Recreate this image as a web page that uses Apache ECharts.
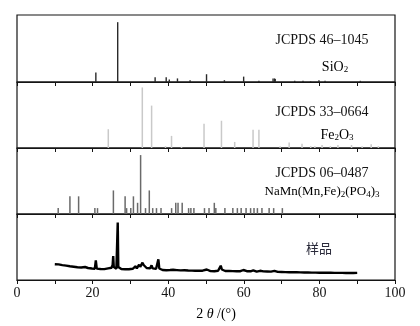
<!DOCTYPE html>
<html>
<head>
<meta charset="utf-8">
<script src="https://cdn.jsdelivr.net/npm/echarts@6/dist/echarts.min.js"></script>
<style>
  html, body { margin: 0; padding: 0; background: #fff; }
  #chart { width: 420px; height: 326px; }
</style>
</head>
<body>
<div id="chart"></div>
<script>
// stick patterns: [2theta, relative intensity]
var sio2Peaks = [[20.86,16],[26.64,100],[36.54,8],[39.47,8],[40.29,4],[42.45,6],[45.79,3],[50.14,13],[54.87,3],[59.96,9],[63.99,2],[67.74,6],[68.14,6],[68.31,5],[73.47,2],[75.66,2],[77.67,1],[79.88,3],[81.49,2],[90.83,2]];
var fe2o3Peaks = [[24.15,31],[33.15,100],[35.61,70],[39.28,3],[40.88,20],[43.52,2],[49.48,40],[54.09,45],[57.59,10],[62.45,30],[64.0,30],[69.6,3],[72.0,9],[75.4,7],[77.7,3],[78.8,3],[80.7,5],[82.9,3],[84.9,5],[88.5,5],[91.3,3],[93.7,6],[95.6,3]];
var namnPeaks = [[10.9,10],[14.0,30],[16.3,30],[20.6,10],[21.3,10],[25.5,40],[28.6,30],[29.0,10],[30.1,10],[30.8,30],[31.9,19],[32.7,100],[34.0,10],[35.0,40],[35.9,10],[36.9,10],[38.1,10],[40.9,10],[42.0,19],[42.6,19],[43.7,19],[45.4,10],[46.0,10],[46.8,10],[49.6,10],[50.8,10],[52.2,19],[52.6,10],[55.0,10],[57.1,10],[58.3,10],[59.3,10],[60.6,10],[61.8,10],[62.7,10],[63.6,10],[64.8,10],[66.7,10],[67.9,10],[70.2,10]];
// measured sample pattern
var samplePattern = [[10,15.8],[10.5,15.2],[11,15.6],[11.5,14.8],[12,14.9],[12.5,14.2],[13,14.4],[13.5,13.6],[14,13.7],[14.5,13.1],[15,13.3],[15.5,12.7],[16,12.8],[16.5,12.3],[17,12.5],[17.5,12.2],[18,13],[18.4,13.2],[18.8,12],[19.3,11.8],[19.8,11.5],[20.3,11.7],[20.6,11.3],[20.85,19.7],[21.1,11.4],[21.6,11.2],[22.1,11],[22.6,11.3],[23.1,10.9],[23.6,11.2],[24.1,11.6],[24.6,11.2],[25.0,12.2],[25.3,15],[25.45,24],[25.6,13],[25.9,11.5],[26.3,11.4],[26.5,12],[26.65,57.5],[26.8,13],[27.1,11.6],[27.6,11],[28.1,10.6],[28.6,10.8],[29.1,10.4],[29.6,10.7],[30.1,10.5],[30.6,11.2],[31.1,11.5],[31.4,13.8],[31.7,11.6],[32.0,12.5],[32.3,15.3],[32.6,13.2],[32.9,14.5],[33.2,17.3],[33.5,15],[33.9,13.5],[34.3,12],[34.8,11.8],[35.2,11.6],[35.6,14.6],[35.9,11.6],[36.3,11],[36.8,11.3],[37.15,12],[37.4,20.7],[37.65,11.5],[38.0,10.5],[38.5,10],[39.0,10.6],[39.5,9.8],[40.0,10.2],[40.5,10],[40.9,11.8],[41.3,10.2],[41.8,9.6],[42.3,9.9],[42.8,9.3],[43.3,9.6],[43.8,9.4],[44.3,9.7],[44.8,9.2],[45.3,9.5],[45.8,9.1],[46.3,9.4],[46.7,10.6],[47.1,9.3],[47.6,9],[48.1,9.4],[48.6,9.1],[49.1,9.3],[49.6,9],[50.2,10.5],[50.7,9.2],[51.2,8.9],[51.7,9.2],[52.2,8.8],[52.7,9.1],[53.2,9.2],[53.6,11],[53.9,14.3],[54.2,10.5],[54.6,9.2],[55.1,9],[55.6,8.7],[56.1,9],[56.6,8.6],[57.1,8.9],[57.6,8.6],[58.1,8.8],[58.6,8.5],[59.1,8.8],[59.6,8.9],[59.9,10],[60.3,8.6],[60.8,8.8],[61.3,8.4],[61.8,8.7],[62.2,8.9],[62.5,9.6],[62.9,8.6],[63.4,8.3],[63.9,8.7],[64.3,9.2],[64.7,8.4],[65.2,8.6],[65.7,8.2],[66.2,8.5],[66.7,8.2],[67.2,8.4],[67.7,8.7],[68.1,9.1],[68.5,8.3],[69,8.1],[69.5,8.4],[70,8],[70.5,8.3],[71,7.9],[71.5,8.2],[72,7.8],[72.5,8.1],[73,7.7],[73.5,8],[74,7.7],[74.5,7.9],[75,7.6],[75.5,7.9],[76,7.5],[76.5,7.8],[77,7.5],[77.5,7.7],[78,7.4],[78.5,7.7],[79,7.4],[79.5,7.6],[80,7.3],[80.5,7.6],[81,7.3],[81.5,7.5],[82,7.2],[82.5,7.5],[83,7.2],[83.5,7.4],[84,7.1],[84.5,7.4],[85,7.1],[85.5,7.3],[86,7.1],[86.5,7.3],[87,7],[87.5,7.3],[88,7],[88.5,7.2],[89,7],[89.5,7.2],[90,7.1]];
var xTicks = [0, 100, 10];
var yMax = [112, 109, 112, 66];

var serif = '"Liberation Serif", "DejaVu Serif", serif';
var ink = '#141414';

var chart = echarts.init(document.getElementById('chart'), null, { renderer: 'canvas' });

var gridTops = [15, 82, 148, 214];
var gridHeights = [67, 66, 66, 66];
var grids = [], xAxes = [], yAxes = [];
for (var i = 0; i < 4; i++) {
  grids.push({
    left: 17, right: 25, top: gridTops[i], height: gridHeights[i],
    show: true, borderColor: ink, borderWidth: 1.2, backgroundColor: 'transparent'
  });
  xAxes.push({
    gridIndex: i, type: 'value', min: xTicks[0], max: xTicks[1], interval: xTicks[2],
    axisLine: { show: true, onZero: false, lineStyle: { color: ink, width: 1.2 } },
    axisTick: { show: true, inside: false, length: 4, lineStyle: { color: ink } },
    splitLine: { show: false },
    axisLabel: {
      show: i === 3, color: ink, fontFamily: serif, fontSize: 14, margin: 6,
      formatter: function(v) { return v % 20 === 0 ? v : ''; }
    }
  });
  yAxes.push({ gridIndex: i, type: 'value', min: 0, max: yMax[i], show: false });
}

function sticks(idx, data, color, w) {
  return {
    type: 'bar', xAxisIndex: idx, yAxisIndex: idx, data: data,
    barWidth: w, itemStyle: { color: color }, silent: true
  };
}

var sub = { fontFamily: serif, fontSize: 9, color: ink, padding: [5, 0, 0, 0] };
var txt = { fontFamily: serif, fontSize: 14, color: ink };

function label(x, y, text, rich) {
  return {
    type: 'text', left: x, top: y,
    style: { text: text, rich: rich, fontFamily: serif, fontSize: 14, fill: ink, align: 'center', verticalAlign: 'middle' }
  };
}

chart.setOption({
  animation: false,
  grid: grids,
  xAxis: xAxes,
  yAxis: yAxes,
  series: [
    sticks(0, sio2Peaks, '#2a2a2a', 1.4),
    sticks(1, fe2o3Peaks, '#c9c9c9', 1.5),
    sticks(2, namnPeaks, '#6a6a6a', 1.5),
    {
      type: 'line', xAxisIndex: 3, yAxisIndex: 3, data: samplePattern,
      showSymbol: false, lineStyle: { color: '#000', width: 2.4 }, silent: true
    }
  ],
  graphic: [
    { type: 'text', x: 322, y: 40, style: { text: 'JCPDS 46\u20131045', font: '14px ' + serif, fill: ink, align: 'center', verticalAlign: 'middle' } },
    { type: 'text', x: 335, y: 67, style: { text: '{t|SiO}{s|2}', rich: { t: txt, s: sub }, align: 'center', verticalAlign: 'middle' } },
    { type: 'text', x: 322, y: 112, style: { text: 'JCPDS 33\u20130664', font: '14px ' + serif, fill: ink, align: 'center', verticalAlign: 'middle' } },
    { type: 'text', x: 337, y: 135, style: { text: '{t|Fe}{s|2}{t|O}{s|3}', rich: { t: txt, s: sub }, align: 'center', verticalAlign: 'middle' } },
    { type: 'text', x: 322, y: 173, style: { text: 'JCPDS 06\u20130487', font: '14px ' + serif, fill: ink, align: 'center', verticalAlign: 'middle' } },
    { type: 'text', x: 322, y: 192, style: { text: '{t|NaMn(Mn,Fe)}{s|2}{t|(PO}{s|4}{t|)}{s|3}', rich: { t: { fontFamily: serif, fontSize: 13, color: ink }, s: sub }, align: 'center', verticalAlign: 'middle' } },
    { type: 'text', x: 319, y: 248, style: { text: '样品', font: '13px "Noto Sans CJK SC", sans-serif', fill: '#2a2a3a', align: 'center', verticalAlign: 'middle' } },
    { type: 'text', x: 216, y: 314, style: { text: '{t|2 }{i|θ}{t| /(°)}', rich: { t: txt, i: { fontFamily: serif, fontSize: 14, fontStyle: 'italic', color: ink } }, align: 'center', verticalAlign: 'middle' } }
  ]
});
</script>
</body>
</html>
